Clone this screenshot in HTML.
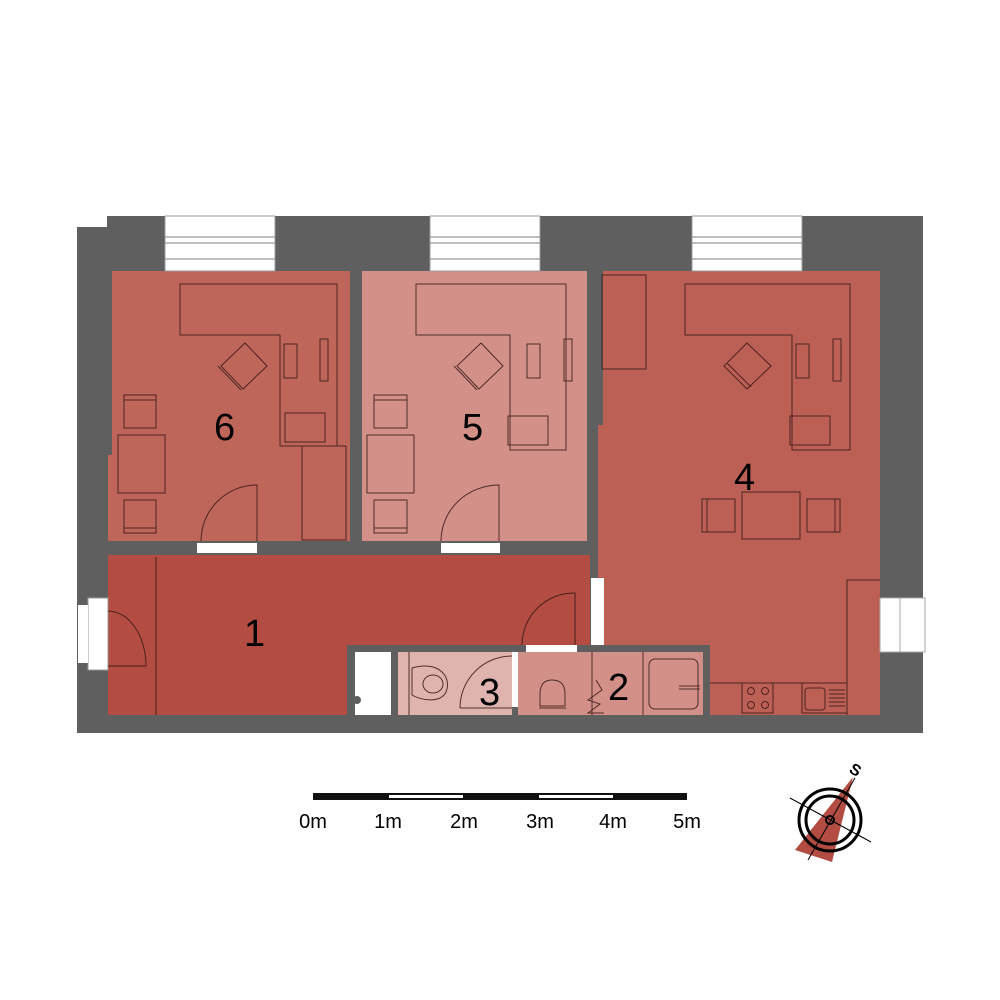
<!DOCTYPE html>
<html><head><meta charset="utf-8"><style>body{margin:0;background:#fff}svg{display:block}</style></head>
<body>
<svg width="1000" height="1000" viewBox="0 0 1000 1000" xmlns="http://www.w3.org/2000/svg" font-family="Liberation Sans, sans-serif">
<!-- walls -->
<path d="M107 216 H923 V733 H77 V227 H107 Z" fill="#5f5f5f"/>
<!-- rooms -->
<path d="M112 271 H350 V541 H108 V455 H112 Z" fill="#bf665b"/>
<rect x="362" y="271" width="225" height="270" fill="#d29089"/>
<path d="M603 271 H880 V715 H598 V425 H603 Z" fill="#bc5f55"/>
<rect x="108" y="555" width="482" height="160" fill="#b34c42"/>
<rect x="347" y="645" width="363" height="75" fill="#5f5f5f"/>
<rect x="355" y="652" width="36" height="63" fill="#fff"/>
<circle cx="357" cy="700" r="4" fill="#5f5f5f"/>
<rect x="398" y="652" width="114" height="63" fill="#dfb3ae"/>
<rect x="518" y="652" width="185" height="63" fill="#d29089"/>
<rect x="512" y="652" width="6" height="55" fill="#fff"/>
<!-- door gaps -->
<rect x="197" y="543" width="60" height="10" fill="#fff"/>
<rect x="441" y="543" width="59" height="10" fill="#fff"/>
<rect x="526" y="645" width="51" height="7" fill="#fff"/>
<rect x="591" y="578" width="13" height="67" fill="#fff"/>
<rect x="88" y="598" width="20" height="72" fill="#fff" stroke="#999" stroke-width="1"/>
<rect x="78" y="605" width="10" height="58" fill="#fff"/>
<rect x="880" y="598" width="45" height="54" fill="#fff" stroke="#aaa" stroke-width="1"/>
<line x1="900" y1="598" x2="900" y2="652" stroke="#aaa"/>
<!-- windows -->
<g fill="#fff" stroke="#999" stroke-width="1">
<rect x="165" y="216" width="110" height="55"/><rect x="430" y="216" width="110" height="55"/><rect x="692" y="216" width="110" height="55"/>
</g>
<g stroke="#999" stroke-width="1.2">
<path d="M165 237H275M165 243H275M165 259H275M430 237H540M430 243H540M430 259H540M692 237H802M692 243H802M692 259H802"/>
</g>
<!-- furniture -->
<g fill="none" stroke="#3a1a16" stroke-width="1" opacity="0.85">
<!-- room 6 -->
<path d="M180 284 H337 V446 H280 V335 H180 Z"/>
<rect x="285" y="413" width="40" height="29"/>
<rect x="302" y="446" width="44" height="94"/>
<rect x="284" y="344" width="13" height="34"/><rect x="320" y="339" width="8" height="42"/>
<path d="M245 343 L267 366 L243 389 L221 366 Z M218 366 L241 390"/>
<rect x="124" y="395" width="32" height="33"/><line x1="124" y1="400" x2="156" y2="400"/>
<rect x="118" y="435" width="47" height="58"/>
<rect x="124" y="500" width="32" height="33"/><line x1="124" y1="528" x2="156" y2="528"/>
<path d="M201 541 A56 56 0 0 1 257 485 V541"/>
<!-- room 5 -->
<path d="M416 284 H566 V450 H510 V335 H416 Z"/>
<rect x="508" y="416" width="40" height="29"/>
<rect x="527" y="344" width="13" height="34"/><rect x="564" y="339" width="8" height="42"/>
<path d="M481 343 L503 366 L479 389 L457 366 Z M454 366 L477 390"/>
<rect x="374" y="395" width="33" height="33"/><line x1="374" y1="400" x2="407" y2="400"/>
<rect x="367" y="435" width="47" height="58"/>
<rect x="374" y="500" width="33" height="33"/><line x1="374" y1="528" x2="407" y2="528"/>
<path d="M441 541 A58 56 0 0 1 499 485 V541"/>
<!-- room 4 -->
<rect x="602" y="275" width="44" height="94"/>
<path d="M685 284 H850 V450 H792 V335 H685 Z"/>
<rect x="790" y="416" width="40" height="29"/>
<rect x="796" y="344" width="13" height="34"/><rect x="833" y="339" width="8" height="42"/>
<path d="M747 343 L771 366 L747 389 L724 366 Z M727 363 L751 387"/>
<rect x="742" y="492" width="58" height="47"/>
<rect x="702" y="499" width="33" height="33"/><line x1="707" y1="499" x2="707" y2="532"/>
<rect x="807" y="499" width="33" height="33"/><line x1="835" y1="499" x2="835" y2="532"/>
<!-- kitchen -->
<path d="M710 683 H847 V715 M847 683 V580 H880"/>
<rect x="742" y="683" width="31" height="30"/>
<circle cx="751" cy="691" r="3.5"/><circle cx="765" cy="691" r="3.5"/><circle cx="751" cy="705" r="3.5"/><circle cx="765" cy="705" r="3.5"/>
<rect x="802" y="683" width="45" height="30"/><rect x="805" y="688" width="20" height="22" rx="3"/>
<path d="M829 690H845M829 694H845M829 698H845M829 702H845M829 706H845"/>
<!-- hall -->
<line x1="156" y1="557" x2="156" y2="715"/>
<path d="M108 611 A38 55 0 0 1 146 666 H108"/>
<path d="M522 645 A52 52 0 0 1 575 593 V645"/>
<!-- bathrooms -->
<line x1="409" y1="652" x2="409" y2="715"/>
<path d="M412 668 C440 660 452 678 446 692 C440 704 420 700 412 695 Z"/>
<ellipse cx="433" cy="684" rx="10" ry="9"/>
<path d="M460 708 A52 52 0 0 1 512 656"/><line x1="460" y1="708" x2="512" y2="708"/>
<line x1="592" y1="652" x2="592" y2="715"/><line x1="643" y1="652" x2="643" y2="715"/>
<rect x="649" y="659" width="49" height="50" rx="6"/>
<path d="M679 686H700M679 689H700"/>
<path d="M540 694 Q540 680 552 680 Q565 680 565 694 V706 H540 Z M539 708H566"/>
<path d="M596 680 L602 690 L588 700 L600 704 L588 713 L604 713"/>
</g>
<!-- labels -->
<g font-size="38" fill="#000">
<text x="214" y="440">6</text><text x="462" y="440">5</text><text x="734" y="490">4</text>
<text x="244" y="646">1</text><text x="479" y="705">3</text><text x="608" y="700">2</text>
</g>
<!-- scale bar -->
<rect x="313" y="793" width="374" height="7" fill="#111"/>
<rect x="389" y="795" width="74" height="3" fill="#fff"/>
<rect x="539" y="795" width="74" height="3" fill="#fff"/>
<g font-size="20" fill="#000" text-anchor="middle">
<text x="313" y="828">0m</text><text x="388" y="828">1m</text><text x="464" y="828">2m</text><text x="540" y="828">3m</text><text x="613" y="828">4m</text><text x="687" y="828">5m</text>
</g>
<!-- compass -->
<polygon points="853,777 795,850 832,862" fill="#b34c42"/>
<g fill="none" stroke="#000">
<circle cx="830" cy="820" r="31" stroke-width="3"/>
<circle cx="830" cy="820" r="24" stroke-width="3"/>
<circle cx="830" cy="820" r="4" stroke-width="2"/>
<line x1="790" y1="798" x2="871" y2="842" stroke-width="1"/>
<line x1="855" y1="778" x2="808" y2="860" stroke-width="1"/>
</g>
<text x="850" y="775" font-size="16" font-weight="bold" transform="rotate(30 855 770)">S</text>
</svg>
</body></html>
